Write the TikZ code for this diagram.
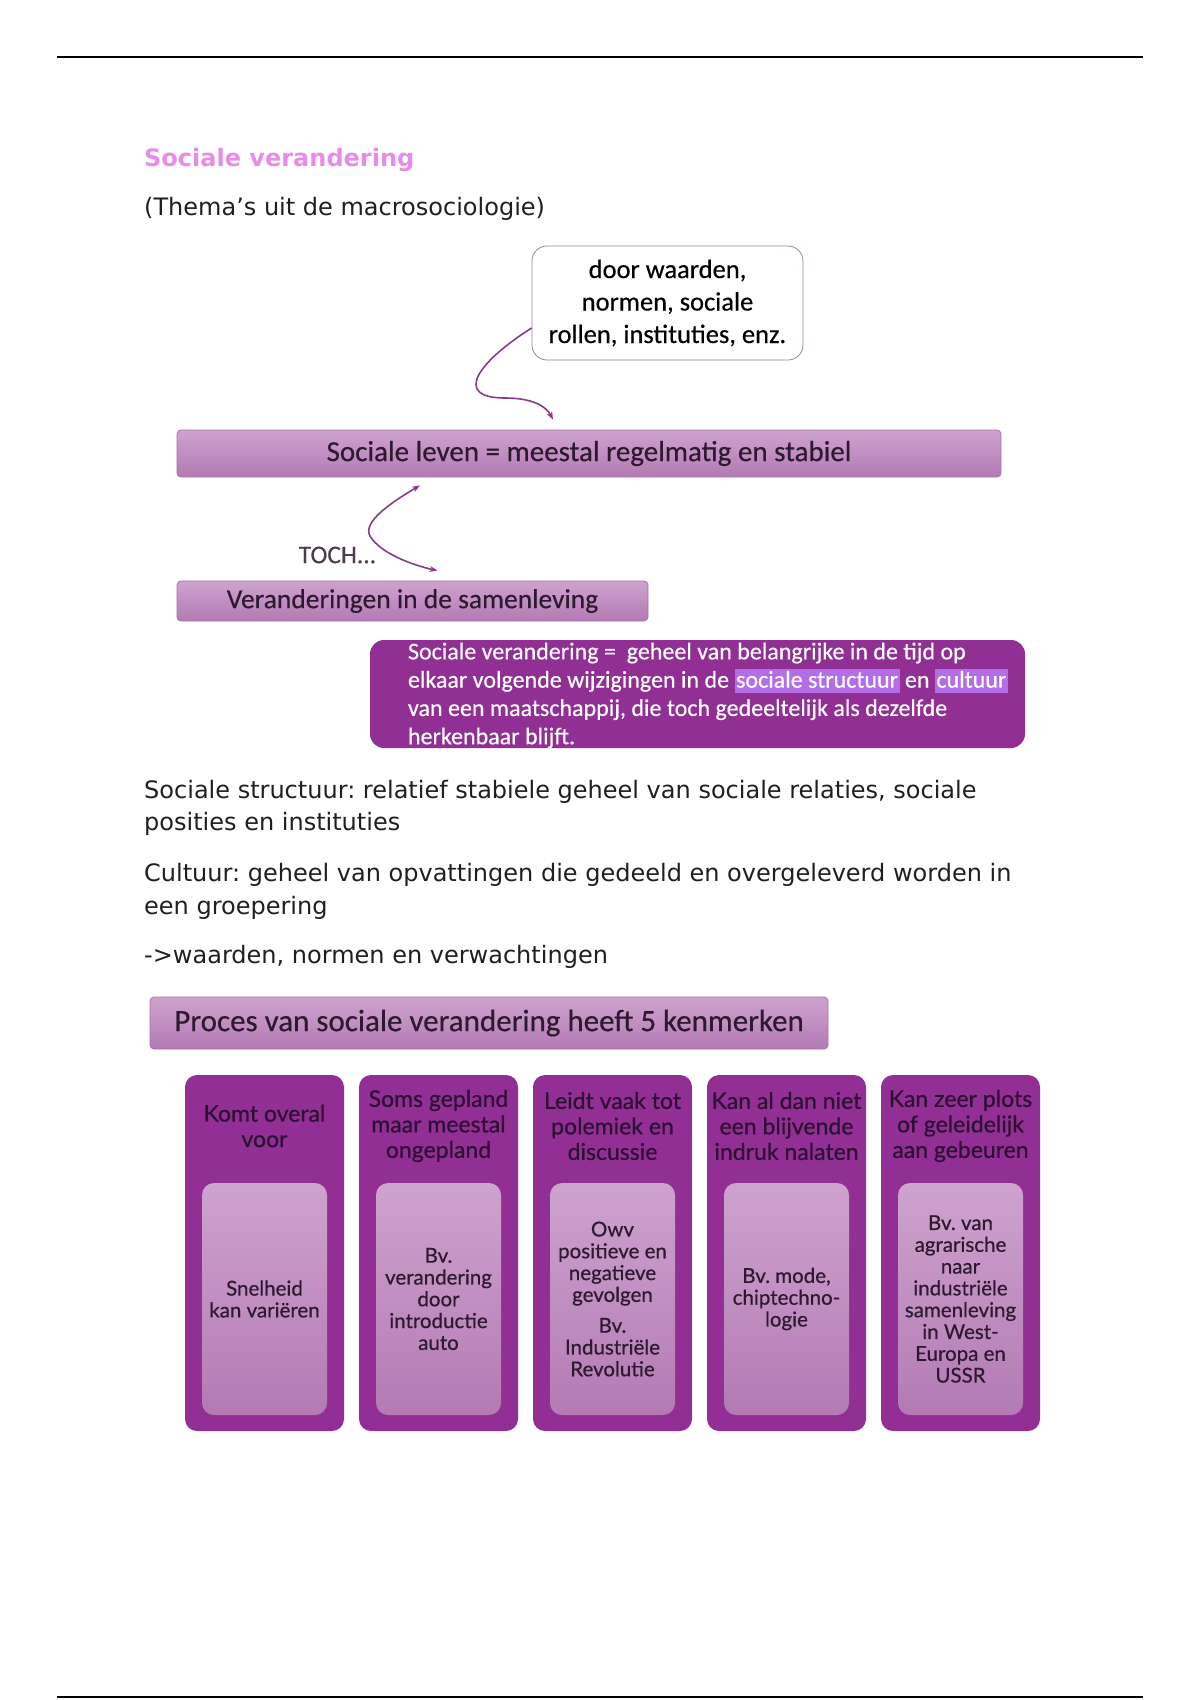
\documentclass[tikz,border=0pt]{standalone}
\usepackage{fontspec}
\setmainfont{DejaVu Sans}
\newfontfamily\boxfont[FakeBold=0.4]{Carlito}
\newfontfamily\colfont[FakeBold=0.6]{Lato}
\usetikzlibrary{arrows.meta}
\frenchspacing
\definecolor{plum}{HTML}{912F94}
\definecolor{barTop}{HTML}{CEA3CE}
\definecolor{barBot}{HTML}{B37AB4}
\definecolor{barLine}{HTML}{A572A5}
\definecolor{arrowCol}{HTML}{8A3B8A}
\definecolor{titleCol}{HTML}{E98BEA}
\definecolor{hilite}{HTML}{B36DE6}
\definecolor{darkText}{HTML}{2E1A2E}
\definecolor{headText}{HTML}{2E0F34}
\definecolor{calloutLine}{HTML}{9E7E9E}
\newcommand\hilite[1]{{\setlength\fboxsep{1.5pt}\colorbox{hilite}{\vphantom{Ag}#1}}}
\tikzset{
  bar/.style={draw=barLine, line width=0.8pt, rounded corners=4pt, top color=barTop, bottom color=barBot,
    text=darkText, inner sep=0pt, font={\boxfont\fontsize{29}{30}\selectfont}},
  link/.style={draw=arrowCol, line width=1.6pt, -{Stealth[length=8pt,width=6pt]}},
  bodytxt/.style={anchor=west, inner sep=0pt, align=left, text=black!88, font={\fontsize{24}{32.5}\selectfont}},
  colbox/.style={fill=plum, rounded corners=12pt, minimum width=159pt, minimum height=356pt},
  colhead/.style={text=headText, align=center, inner sep=0pt, font={\colfont\fontsize{23}{25.5}\selectfont}},
  colinner/.style={rounded corners=12pt, top color=barTop, bottom color=barBot, minimum width=125pt,
    minimum height=232pt, text=darkText, align=center, inner sep=0pt, font={\colfont\fontsize{20.5}{21.8}\selectfont}}
}
\begin{document}
\begin{tikzpicture}[x=1pt,y=-1pt]
\useasboundingbox (0,0) rectangle (1200,1700);
\draw[line width=2pt] (57,57) -- (1143,57);
\draw[line width=2pt] (57,1697) -- (1143,1697);
\node[anchor=west, inner sep=0pt, text=titleCol, font={\bfseries\fontsize{24}{28}\selectfont}] (title) at (144,160) {Sociale verandering};
\node[bodytxt] (subtitle) at (144,209) {(Thema’s uit de macrosociologie)};

\node[draw=calloutLine, line width=0.8pt, rounded corners=15pt, minimum width=271pt, minimum height=114pt,
  align=center, inner sep=0pt, font={\boxfont\fontsize{26.5}{32.5}\selectfont}] (callout) at (667.5,303)
  {door waarden,\\normen, sociale\\rollen, instituties, enz.};
\node[bar, minimum width=824pt, minimum height=47pt] (bar1) at (589,453.5) {Sociale leven = meestal regelmatig en stabiel};
\node[bar, minimum width=471pt, minimum height=40pt, font={\boxfont\fontsize{27.5}{30}\selectfont}] (bar2) at (412.5,601) {Veranderingen in de samenleving};
\node[text=darkText!85, inner sep=0pt, font={\boxfont\fontsize{25.5}{28}\selectfont}] (toch) at (337.5,555) {TOCH...};
\draw[link] ([yshift=-25pt]callout.west) .. controls (478,362) and (452,398) .. (505,398)
  .. controls (532,398) and (546,406) .. ([xshift=-36pt,yshift=10pt]bar1.north);
\draw[link, {Stealth[length=8pt,width=6pt]}-{Stealth[length=8pt,width=6pt]}] ([xshift=-169pt,yshift=-8pt]bar1.south)
  .. controls (392,502) and (362,522) .. (370,536) .. controls (380,553) and (412,565) .. ([xshift=25pt,yshift=10pt]bar2.north);

\node[fill=plum, rounded corners=14pt, minimum width=655pt, minimum height=108pt] (defbox) at (697.5,694) {};
\node[anchor=west, inner sep=0pt, align=left, text=white, font={\boxfont\fontsize{24}{28.3}\selectfont}] (deftext)
  at ([xshift=38pt,yshift=-1.5pt]defbox.west)
  {Sociale verandering =\ \ geheel van belangrijke in de tijd op\\
   elkaar volgende wijzigingen in de \hilite{sociale structuur} en \hilite{cultuur}\\
   van een maatschappij, die toch gedeeltelijk als dezelfde\\
   herkenbaar blijft.};

\node[bodytxt] (struct) at (144,808) {Sociale structuur: relatief stabiele geheel van sociale relaties, sociale\\posities en instituties};
\node[bodytxt] (cult) at (144,891.5) {Cultuur: geheel van opvattingen die gedeeld en overgeleverd worden in\\een groepering};
\node[bodytxt] (values) at (144,956.5) {->waarden, normen en verwachtingen};

\node[bar, minimum width=678pt, minimum height=52pt, font={\boxfont\fontsize{31}{32}\selectfont}] (bar3) at (489,1023)
  {Proces van sociale verandering heeft 5 kenmerken};
\foreach \i/\head/\body in {
  0/{Komt overal\\voor}/{Snelheid\\kan variëren},
  1/{Soms gepland\\maar meestal\\ongepland}/{Bv.\\verandering\\door\\introductie\\auto},
  2/{Leidt vaak tot\\polemiek en\\discussie}/{Owv\\positieve en\\negatieve\\gevolgen\\[9pt]Bv.\\Industriële\\Revolutie},
  3/{Kan al dan niet\\een blijvende\\indruk nalaten}/{Bv. mode,\\chiptechno-\\logie},
  4/{Kan zeer plots\\of geleidelijk\\aan gebeuren}/{Bv. van\\agrarische\\naar\\industriële\\samenleving\\in West-\\Europa en\\USSR}}{
  \node[colbox] (col\i) at (264.5+174*\i,1253) {};
  \node[colhead] (head\i) at (264.5+174*\i,1126) {\head};
  \node[colinner] (inner\i) at (264.5+174*\i,1299) {\body};
}
\end{tikzpicture}
\end{document}
